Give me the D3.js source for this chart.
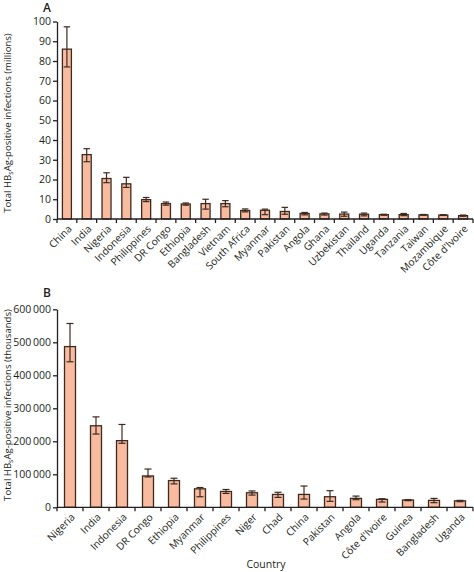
<!DOCTYPE html>
<html>
<head>
<meta charset="utf-8">
<script src="https://cdn.jsdelivr.net/npm/d3@7"></script>
<style>
  html, body { margin: 0; padding: 0; background: #fff; }
  svg { display: block; }
  text { font-family: "Open Sans", "DejaVu Sans", sans-serif; fill: #231f20; }
</style>
</head>
<body>
<svg id="chart" width="474" height="572"></svg>
<script>
// ---------- Data ----------
const countriesA = ["China","India","Nigeria","Indonesia","Philippines","DR Congo","Ethiopia","Bangladesh","Vietnam","South Africa","Myanmar","Pakistan","Angola","Ghana","Uzbekistan","Thailand","Uganda","Tanzania","Taiwan","Mozambique","Côte d'Ivoire"];
const valuesA = [86, 32.6, 20.5, 17.8, 9.8, 7.8, 7.6, 7.8, 7.8, 4.3, 4.4, 3.8, 2.8, 2.6, 2.5, 2.4, 2.2, 2.2, 2.1, 2.0, 1.7];
const lowA    = [77, 29.0, 18.4, 16.0, 8.8, 7.0, 7.0, 5.0, 6.2, 3.6, 2.2, 2.4, 2.1, 2.0, 1.4, 1.6, 1.9, 1.7, 1.9, 1.8, 1.4];
const highA   = [97.3, 35.6, 23.4, 21.1, 10.9, 8.6, 8.1, 10.0, 9.3, 5.1, 5.0, 5.9, 3.3, 3.0, 3.5, 3.0, 2.4, 2.8, 2.3, 2.2, 2.0];
const yTicksA = [0,10,20,30,40,50,60,70,80,90,100];

const countriesB = ["Nigeria","India","Indonesia","DR Congo","Ethiopia","Myanmar","Philippines","Niger","Chad","China","Pakistan","Angola","Côte d'Ivoire","Guinea","Bangladesh","Uganda"];
const valuesB = [487000, 247000, 202000, 95000, 81000, 56000, 48000, 44000, 39000, 39000, 32000, 27000, 24000, 22000, 21000, 19500];
const lowB    = [441000, 222000, 194000, 92000, 71000, 32000, 42000, 37000, 30000, 25000, 18000, 23000, 16000, 20000, 14000, 17000];
const highB   = [557000, 274000, 251000, 116000, 88000, 60000, 54000, 49500, 45500, 64500, 50300, 34000, 26000, 23500, 27000, 21000];
const yTicksB = [0,100000,200000,300000,400000,500000,600000];

const yLabelA = ["Total HB", "s", "Ag-positive infections (millions)"];
const yLabelB = ["Total HB", "s", "Ag-positive infections (thousands)"];
const xTitle = "Country";

// ---------- Styles ----------
const FILL = "#f8bb9f";
const STROKE = "#3d2a20";
const AXIS = "#231f20";

const svg = d3.select("#chart");

function panel(opts) {
  const {label, labelY, countries, values, low, high, yTicks, yMax, y0, y1, barW, capW, fmt, yLabel, yLabelCenter, labelOffset} = opts;
  const x0 = 57, x1 = 473;
  const x = d3.scaleBand().domain(countries).range([x0, x1]).padding(0);
  const y = d3.scaleLinear().domain([0, yMax]).range([y0, y1]);
  const g = svg.append("g");

  // panel letter
  g.append("text").attr("x", 43).attr("y", labelY)
    .attr("font-size", 12).attr("font-weight", 600).text(label);

  // bars
  g.selectAll("rect.bar").data(countries).join("rect")
    .attr("class", "bar")
    .attr("x", d => x(d) + x.bandwidth()/2 - barW/2)
    .attr("width", barW)
    .attr("y", (d,i) => y(values[i]))
    .attr("height", (d,i) => y(0) - y(values[i]))
    .attr("fill", FILL).attr("stroke", STROKE).attr("stroke-width", 1.3);

  // error bars
  const eb = g.selectAll("g.err").data(countries).join("g").attr("class","err")
    .attr("stroke", STROKE).attr("stroke-width", 1.2);
  eb.append("line")
    .attr("x1", d => x(d) + x.bandwidth()/2).attr("x2", d => x(d) + x.bandwidth()/2)
    .attr("y1", (d,i) => y(low[i])).attr("y2", (d,i) => y(high[i]));
  eb.append("line")
    .attr("x1", d => x(d) + x.bandwidth()/2 - capW/2).attr("x2", d => x(d) + x.bandwidth()/2 + capW/2)
    .attr("y1", (d,i) => y(high[i])).attr("y2", (d,i) => y(high[i]));
  eb.append("line")
    .attr("x1", d => x(d) + x.bandwidth()/2 - capW/2).attr("x2", d => x(d) + x.bandwidth()/2 + capW/2)
    .attr("y1", (d,i) => y(low[i])).attr("y2", (d,i) => y(low[i]));

  // y axis
  const ya = g.append("g").attr("transform", `translate(${x0},0)`)
    .call(d3.axisLeft(y).tickValues(yTicks).tickFormat(fmt).tickSize(4).tickSizeOuter(0).tickPadding(2));
  ya.select(".domain").attr("stroke", AXIS).attr("stroke-width", 1.3);
  ya.selectAll(".tick line").attr("stroke", AXIS).attr("stroke-width", 1.3);
  ya.selectAll(".tick text").attr("font-size", 10.5).attr("font-family", "'Open Sans', sans-serif").attr("fill", AXIS);

  // x axis (ticks at category boundaries)
  g.append("line").attr("x1", x0).attr("x2", x1).attr("y1", y(0)).attr("y2", y(0))
    .attr("stroke", AXIS).attr("stroke-width", 1.3);
  const bounds = countries.map(d => x(d)).concat([x1]);
  g.selectAll("line.xt").data(bounds).join("line").attr("class","xt")
    .attr("x1", d => d).attr("x2", d => d).attr("y1", y(0)).attr("y2", y(0) + 4)
    .attr("stroke", AXIS).attr("stroke-width", 1.3);
  g.selectAll("text.xl").data(countries).join("text").attr("class","xl")
    .attr("transform", d => `translate(${x(d) + x.bandwidth()/2 + labelOffset},${y(0) + 8}) rotate(-45)`)
    .attr("text-anchor", "end").attr("dy", "0.35em")
    .attr("font-size", 10.2).text(d => d);

  // y label
  const t = g.append("text")
    .attr("transform", `translate(11,${yLabelCenter}) rotate(-90)`)
    .attr("text-anchor", "middle").attr("font-size", 9.6);
  t.append("tspan").text(yLabel[0]);
  t.append("tspan").attr("font-size", 7).attr("dy", 2).text(yLabel[1]);
  t.append("tspan").attr("dy", -2).text(yLabel[2]);
}

panel({
  label: "A", labelY: 12, countries: countriesA, values: valuesA, low: lowA, high: highA,
  yTicks: yTicksA, yMax: 100, y0: 219, y1: 21.5, barW: 9, capW: 6.5,
  fmt: d3.format("d"), yLabel: yLabelA, yLabelCenter: 123, labelOffset: 3
});

const fmtB = d => d3.format(",")(d).replace(/,/g, "\u2009");
panel({
  label: "B", labelY: 297, countries: countriesB, values: valuesB, low: lowB, high: highB,
  yTicks: yTicksB, yMax: 600000, y0: 507.3, y1: 309.3, barW: 11, capW: 7,
  fmt: fmtB, yLabel: yLabelB, yLabelCenter: 405, labelOffset: 3
});

svg.append("text").attr("x", 266).attr("y", 568).attr("text-anchor", "middle")
  .attr("font-size", 10.5).text(xTitle);
</script>
</body>
</html>
